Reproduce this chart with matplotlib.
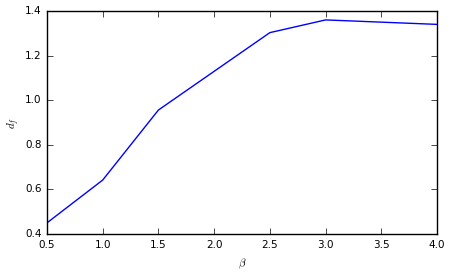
import matplotlib
matplotlib.use("Agg")
import matplotlib.pyplot as plt

beta = [0.5, 1.0, 1.5, 2.5, 3.0, 4.0]
df = [0.45, 0.642, 0.956, 1.303, 1.36, 1.34]

plt.style.use('classic')
fig = plt.figure(figsize=(4.52, 2.75), dpi=100)
ax = fig.add_axes([47/452, 1 - 234/275, 390/452, 223/275])
ax.plot(beta, df, color='blue', lw=1)
ax.set_xlim(0.5, 4.0)
ax.set_ylim(0.4, 1.4)
ax.set_xticks([0.5, 1.0, 1.5, 2.0, 2.5, 3.0, 3.5, 4.0])
ax.set_yticks([0.4, 0.6, 0.8, 1.0, 1.2, 1.4])
ax.tick_params(labelsize=7.5, length=4)
ax.set_xlabel(r'$\beta$', fontsize=8)
ax.set_ylabel(r'$d_f$', fontsize=8, labelpad=2)
fig.savefig('out.png', dpi=100)
